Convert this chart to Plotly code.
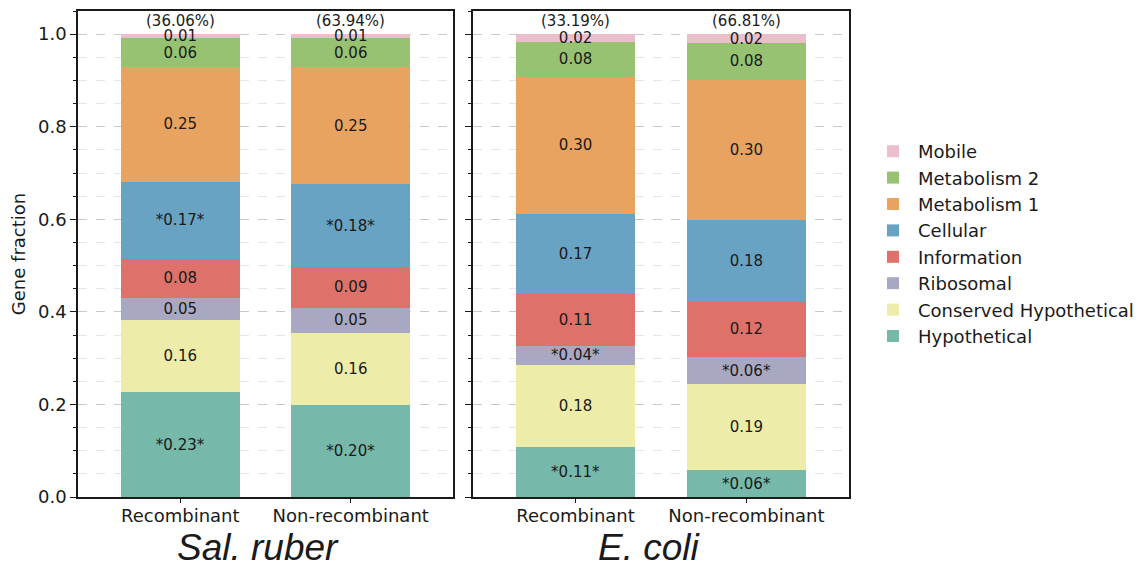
import plotly.graph_objects as go
from plotly.subplots import make_subplots

categories = ["Recombinant", "Non-recombinant"]
series_names = ["Hypothetical", "Conserved Hypothetical", "Ribosomal", "Information",
                "Cellular", "Metabolism 1", "Metabolism 2", "Mobile"]
series_colors = ["#76b8aa", "#edeca9", "#a9a8c2", "#de7169", "#68a3c3",
                 "#e9a361", "#96c272", "#ebbecb"]

# Sal. ruber fractions (bottom -> top), [Recombinant, Non-recombinant]
ruber_values = [
    [0.226, 0.199],
    [0.156, 0.156],
    [0.049, 0.054],
    [0.084, 0.088],
    [0.166, 0.179],
    [0.248, 0.253],
    [0.062, 0.062],
    [0.009, 0.009],
]
ruber_sig = [
    [True, True], [False, False], [False, False], [False, False],
    [True, True], [False, False], [False, False], [False, False],
]
ruber_pct = [36.06, 63.94]

# E. coli fractions
coli_values = [
    [0.108, 0.058],
    [0.178, 0.186],
    [0.041, 0.058],
    [0.112, 0.120],
    [0.173, 0.177],
    [0.296, 0.303],
    [0.076, 0.079],
    [0.016, 0.019],
]
coli_sig = [
    [True, True], [False, False], [True, True], [False, False],
    [False, False], [False, False], [False, False], [False, False],
]
coli_pct = [33.19, 66.81]

panel_titles = ["Sal. ruber", "E. coli"]
title_xshift = [-8, -12]

FONT = "DejaVu Sans"
OFF = 8  # default page body margin

W, H = 1142 - 2 * OFF, 568 - 2 * OFF
ml, mt = 78 - OFF, 11 - OFF
mr = W - (849 - OFF)
mb = H - (497 - OFF)
pw = W - ml - mr
ph = H - mt - mb

fig = make_subplots(rows=1, cols=2)

panels = [(ruber_values, ruber_sig, ruber_pct), (coli_values, coli_sig, coli_pct)]
for p, (vals, sigs, pcts) in enumerate(panels):
    for i, name in enumerate(series_names):
        labels = []
        for v, s in zip(vals[i], sigs[i]):
            t = f"{v:.2f}"
            labels.append(f"*{t}*" if s else t)
        fig.add_trace(go.Bar(
            x=categories, y=vals[i], name=name,
            marker=dict(color=series_colors[i], line=dict(width=0)),
            width=0.7,
            text=labels, textposition="inside", insidetextanchor="middle",
            textangle=0,
            insidetextfont=dict(family=FONT, size=15, color="#1a1a1a"),
            showlegend=(p == 0), legendgroup=name,
            hoverinfo="skip",
        ), row=1, col=p + 1)
    for j, c in enumerate(categories):
        total = sum(vals[i][j] for i in range(len(series_names)))
        fig.add_annotation(
            x=c, y=total, xref=f"x{p+1}" if p else "x", yref=f"y{p+1}" if p else "y",
            text=f"({pcts[j]:.2f}%)", showarrow=False, yanchor="bottom", yshift=2,
            font=dict(family=FONT, size=15, color="#1a1a1a"),
        )
    fig.add_annotation(
        x=0.5, y=-0.104, xref=f"x{p+1} domain" if p else "x domain", yref="paper",
        text=panel_titles[p], showarrow=False, xshift=title_xshift[p], yanchor="middle",
        font=dict(family="Liberation Sans", size=37, color="#1a1a1a", style="italic"),
    )

axis_common = dict(showline=True, mirror=True, linecolor="#1a1a1a", linewidth=1.5)
yaxis_common = dict(
    range=[0, 1.05], dtick=0.2, tick0=0, tickformat=".1f",
    ticks="outside", ticklen=6, tickwidth=1.3, tickcolor="#1a1a1a",
    showgrid=True, gridcolor="#c9c9c9", griddash="dash", gridwidth=1.3,
    zeroline=False,
    minor=dict(dtick=0.05, tick0=0, ticks="outside", ticklen=3.5, tickwidth=1,
               tickcolor="#1a1a1a", showgrid=True, gridcolor="#e6e6e6",
               griddash="dash", gridwidth=1),
    tickfont=dict(family=FONT, size=18, color="#1a1a1a"),
    **axis_common,
)
xaxis_common = dict(
    range=[-0.6, 1.6], ticks="outside", ticklen=4, tickwidth=1.3, tickcolor="#1a1a1a",
    ticklabelstandoff=-2,
    showgrid=False, tickfont=dict(family=FONT, size=18, color="#1a1a1a"),
    **axis_common,
)

fig.update_layout(
    width=W, height=H,
    margin=dict(l=ml, r=mr, t=mt, b=mb, autoexpand=False),
    plot_bgcolor="white", paper_bgcolor="white",
    barmode="stack",
    uniformtext=dict(minsize=15, mode="show"),
    xaxis=dict(domain=[0, 375 / pw], **xaxis_common),
    xaxis2=dict(domain=[395 / pw, 1], **xaxis_common),
    yaxis=dict(title=dict(text="Gene fraction", font=dict(family=FONT, size=18, color="#1a1a1a"),
                          standoff=10), **yaxis_common),
    yaxis2=dict(showticklabels=False, **yaxis_common),
    legend=dict(x=(868 - 78) / pw, xanchor="left", y=(497 - 133) / ph, yanchor="top",
                traceorder="reversed", font=dict(family=FONT, size=18, color="#1a1a1a"),
                bgcolor="rgba(0,0,0,0)", itemwidth=40, tracegroupgap=0),
    font=dict(family=FONT, color="#1a1a1a"),
)

fig.write_html("out.html")
